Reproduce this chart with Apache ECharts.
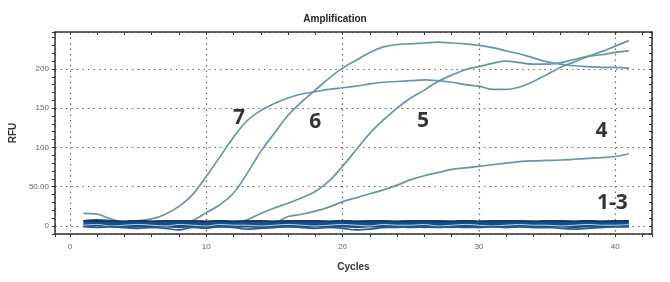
<!DOCTYPE html>
<html>
<head>
<meta charset="utf-8">
<script src="https://cdn.jsdelivr.net/npm/echarts@6.0.0/dist/echarts.min.js"></script>
<style>
  html, body { margin: 0; padding: 0; background: #fff; }
  #chart { width: 670px; height: 282px; }
</style>
</head>
<body>
<div id="chart"></div>
<script>
// 循环数 (x)
const cycles = [1, 2, 3, 4, 5, 6, 7, 8, 9, 10, 11, 12, 13, 14, 15, 16, 17, 18, 19, 20,
  21, 22, 23, 24, 25, 26, 27, 28, 29, 30, 31, 32, 33, 34, 35, 36, 37, 38, 39, 40, 41];

// 扩增曲线 RFU
const curve7 = [16, 15, 9, 5, 7, 9, 15, 25, 40, 63, 88, 113, 134, 147, 156, 163, 168, 171, 174, 176,
  178, 181, 183, 184, 185, 186, 185, 183, 180, 178, 174, 174, 177, 184, 193, 202, 209, 216, 222, 229, 236];
const curve6 = [2, 3, 2, 1, 2, 1, 2, 3, 7, 17, 27, 42, 67, 95, 118, 141, 158, 173, 188, 201,
  211, 221, 228, 231, 232, 233, 234, 233, 232, 230, 227, 223, 219, 214, 209, 206, 204, 203, 202, 202, 201];
const curve5 = [2, 1, 2, 3, 2, 1, 2, 1, 2, 3, 2, 3, 8, 16, 23, 29, 36, 44, 57, 76,
  97, 118, 135, 150, 163, 173, 184, 192, 199, 203, 207, 210, 208, 206, 206, 208, 212, 216, 218, 221, 223];
const curve4 = [1, 2, 1, 2, 3, 2, 1, 2, 3, 2, 1, 2, 3, 2, 4, 12, 15, 19, 24, 31,
  36, 41, 46, 52, 59, 64, 68, 72, 74, 76, 78, 80, 82, 83, 83.5, 84, 85, 86, 87, 88.5, 92];

// 1-3 阴性基线
const baseTop = [6.5, 6.5, 6, 6, 6.5, 6, 6, 6.5, 6, 6, 6.5, 6, 6, 6.5, 6, 6, 6.5, 6, 6, 6.5,
  6, 6, 6.5, 6, 6, 6.5, 6, 6, 6.5, 6, 6, 6.5, 6, 6, 6.5, 6, 6, 6.5, 6, 6, 6.5];
const baseMid = [3, 4, 3, 2, 3, 2, 3, 2, 3, 2, 3, 2, 3, 2, 2, 3, 2, 3, 2, 3,
  2, 3, 2, 2, 3, 2, 3, 2, 3, 2, 3, 2, 3, 2, 2, 3, 2, 3, 2, 3, 3];
const baseLight = [1, 2, 0, 1, 2, 1, 0, 2, 1, 0, 2, 1, 1, 0, 1, 2, 1, 0, 1, 2,
  1, 0, 2, 1, 1, 2, 0, 1, 2, 1, 0, 1, 2, 1, 1, 0, 1, 2, 1, 1, 2];
const baseLow = [-1, -2, -1, -2, -3, -2, -3, -5, -2, -3, -1, -2, -4, -3, -2, -1, -2, -3, -2, -3,
  -5, -4, -2, -1, -2, -1, -2, -1, -2, -2, -1, -2, -1, -2, -2, -3, -4, -3, -2, -1, -1];

// 曲线编号标注
const labelTexts = ['7', '6', '5', '4', '1-3'];
const labelX = [12.4, 18.0, 25.9, 39.0, 39.8];
const labelY = [137, 132, 134, 121, 29];

function pairs(ys) {
  return cycles.map((c, i) => [c, ys[i]]);
}

const chart = echarts.init(document.getElementById('chart'));

const curveColor = '#6a94a8';
const gridLine = { show: true, lineStyle: { color: '#666', type: [1.5, 4], width: 1.2 } };

function curve(name, ys) {
  return {
    name: name, type: 'line', data: pairs(ys), smooth: 0.4, showSymbol: false,
    lineStyle: { color: curveColor, width: 1.7 }, z: 3
  };
}

function base(name, ys, color, width) {
  return {
    name: name, type: 'line', data: pairs(ys), smooth: 0.3, showSymbol: false,
    lineStyle: { color: color, width: width }, z: 4
  };
}

const option = {
  animation: false,
  backgroundColor: '#fff',
  title: {
    text: 'Amplification', left: 'center', top: 9,
    textStyle: { fontFamily: 'Liberation Sans', fontSize: 10, fontWeight: 'bold', color: '#222' }
  },
  grid: { left: 51, right: 18, top: 32, bottom: 48 },
  xAxis: [{
    type: 'value', min: -1.1, max: 42.7,
    name: 'Cycles', nameLocation: 'middle', nameGap: 28,
    nameTextStyle: { fontFamily: 'Liberation Sans', fontSize: 10, fontWeight: 'bold', color: '#333' },
    axisLine: { show: true, onZero: false, lineStyle: { color: '#333', width: 1.5 } },
    axisTick: { show: true, length: 3, lineStyle: { color: '#333' } },
    minorTick: { show: true, splitNumber: 5, length: 3, lineStyle: { color: '#333' } },
    axisLabel: {
      showMinLabel: false, showMaxLabel: false, margin: 9,
      fontFamily: 'Liberation Sans', fontSize: 8, color: '#666'
    },
    splitLine: gridLine
  }, {
    type: 'value', min: -1.1, max: 42.7, position: 'top',
    axisLine: { show: true, onZero: false, lineStyle: { color: '#333', width: 1.5 } },
    axisTick: { show: true, inside: true, length: 3, lineStyle: { color: '#333' } },
    minorTick: { show: true, splitNumber: 5, length: 3, lineStyle: { color: '#333' } },
    axisLabel: { show: false },
    splitLine: { show: false }
  }],
  yAxis: [{
    type: 'value', min: -10.2, max: 247,
    name: 'RFU', nameLocation: 'middle', nameGap: 31, nameRotate: 90,
    nameTextStyle: { fontFamily: 'Liberation Sans', fontSize: 10, fontWeight: 'bold', color: '#333' },
    axisLine: { show: true, onZero: false, lineStyle: { color: '#333', width: 1.5 } },
    axisTick: { show: true, length: 3, lineStyle: { color: '#333' } },
    minorTick: { show: true, splitNumber: 5, length: 3, lineStyle: { color: '#333' } },
    axisLabel: {
      showMinLabel: false, showMaxLabel: false, margin: 6,
      fontFamily: 'Liberation Sans', fontSize: 8, color: '#666',
      formatter: v => (v === 50 ? '50.00' : String(v))
    },
    splitLine: gridLine
  }, {
    type: 'value', min: -10.2, max: 247, position: 'right',
    axisLine: { show: true, onZero: false, lineStyle: { color: '#333', width: 1.5 } },
    axisTick: { show: true, inside: true, length: 3, lineStyle: { color: '#333' } },
    minorTick: { show: true, splitNumber: 5, length: 3, lineStyle: { color: '#333' } },
    axisLabel: { show: false },
    splitLine: { show: false }
  }],
  series: [
    curve('7', curve7),
    curve('6', curve6),
    curve('5', curve5),
    curve('4', curve4),
    base('baseMid', baseMid, '#1a4d88', 7.5),
    base('baseTop', baseTop, '#12355e', 1.6),
    base('baseLight', baseLight, '#b5d3e8', 1),
    base('baseLow', baseLow, '#245a96', 1.6),
    {
      name: 'labels', type: 'scatter', symbolSize: 0, z: 10,
      data: labelTexts.map((t, i) => [labelX[i], labelY[i], t]),
      label: {
        show: true, position: 'inside', formatter: p => p.data[2],
        fontFamily: 'Open Sans', fontSize: 21, fontWeight: 'bold', color: '#000',
        textBorderWidth: 0
      }
    }
  ]
};

chart.setOption(option);
</script>
</body>
</html>
